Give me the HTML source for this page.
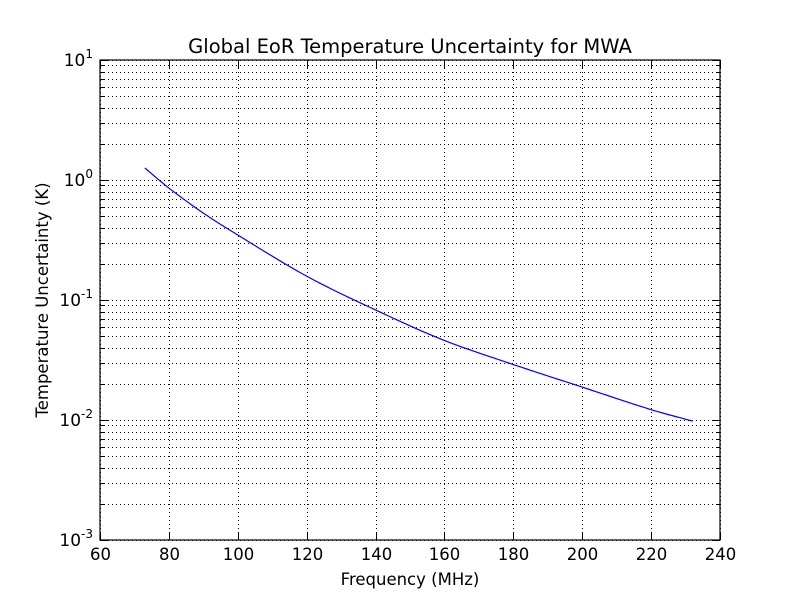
<!DOCTYPE html>
<html><head><meta charset="utf-8"><style>
body{margin:0;background:#fff}
svg text{font-family:"DejaVu Sans","Liberation Sans",sans-serif;fill:#000}
</style></head><body>
<svg id="chart" width="800" height="600" xmlns="http://www.w3.org/2000/svg">
<rect width="800" height="600" fill="#fff"/>
<g id="grid"></g>
<g id="ticks"></g>
<path id="line" fill="none" stroke="#0000ff" stroke-width="1.2"/>
<rect x="100" y="60" width="620" height="480" fill="none" stroke="#000" stroke-width="1.2"/>
<text x="410" y="53" font-size="19.5" text-anchor="middle">Global EoR Temperature Uncertainty for MWA</text>
<text x="410" y="585" font-size="16.5" text-anchor="middle">Frequency (MHz)</text>
<text transform="translate(48,300) rotate(-90)" font-size="16.5" text-anchor="middle">Temperature Uncertainty (K)</text>
</svg>
<script>
const xTicks=[60,80,100,120,140,160,180,200,220,240];
const yExps=[-3,-2,-1,0,1];
const freqs=[73,80,90,100,120,140,160,180,200,220,232];
const temps=[1.26,0.857,0.53,0.348,0.158,0.0826,0.046,0.029,0.0188,0.0122,0.0098];
const L=100,R=720,T=60,B=540;
const xs=v=>L+(v-60)/(240-60)*(R-L);
const ys=v=>B-(Math.log10(v)+3)/4*(B-T);
const NS='http://www.w3.org/2000/svg';
const grid=document.getElementById('grid'),ticks=document.getElementById('ticks'),svg=document.getElementById('chart');
function ln(p,x1,y1,x2,y2,dash){const l=document.createElementNS(NS,'line');l.setAttribute('x1',x1);l.setAttribute('y1',y1);l.setAttribute('x2',x2);l.setAttribute('y2',y2);l.setAttribute('stroke','#000');l.setAttribute('stroke-width','1');if(dash)l.setAttribute('stroke-dasharray','1,3');p.appendChild(l);return l;}
xTicks.forEach(v=>{const x=Math.round(xs(v))+0.5;
 const g=ln(grid,x,T,x,B,true);
 
 
 ln(ticks,x,B,x,B-8);ln(ticks,x,T,x,T+8);
 const t=document.createElementNS(NS,'text');t.setAttribute('x',x);t.setAttribute('y',B+20);t.setAttribute('font-size','16.5');t.setAttribute('text-anchor','middle');t.textContent=v;
 
 
 svg.appendChild(t);});
yExps.forEach(e=>{
 for(let m=1;m<=9;m++){if(e===1&&m>1)break;const v=m*Math.pow(10,e);const y=Math.round(ys(v))+0.5;
  const g=ln(grid,L,y,R,y,true);
  
  
  const len=m===1?8:4;ln(ticks,L,y,L+len,y);ln(ticks,R,y,R-len,y);}
 const y=ys(Math.pow(10,e));
 const t=document.createElementNS(NS,'text');t.setAttribute('x',93);t.setAttribute('y',y+6);t.setAttribute('font-size','17');t.setAttribute('text-anchor','end');
 t.innerHTML='10<tspan dy="-8" font-size="12">'+e+'</tspan>';
 
 
 svg.appendChild(t);});
const lx=freqs,ly=temps.map(v=>Math.log10(v));
let d='';const n=lx.length;
for(let i=0;i<n-1;i++){
 const m0=i>0?(ly[i+1]-ly[i-1])/(lx[i+1]-lx[i-1]):(ly[1]-ly[0])/(lx[1]-lx[0]);
 const m1=i<n-2?(ly[i+2]-ly[i])/(lx[i+2]-lx[i]):(ly[n-1]-ly[n-2])/(lx[n-1]-lx[n-2]);
 const h=lx[i+1]-lx[i];
 for(let k=0;k<=10;k++){const t=k/10;const t2=t*t,t3=t2*t;
  const yv=(2*t3-3*t2+1)*ly[i]+(t3-2*t2+t)*h*m0+(-2*t3+3*t2)*ly[i+1]+(t3-t2)*h*m1;
  const xv=lx[i]+t*h;
  if(i>0&&k===0)continue;
  d+=(d?'L':'M')+xs(xv).toFixed(2)+','+ys(Math.pow(10,yv)).toFixed(2);}
}
document.getElementById('line').setAttribute('d',d);
</script>
</body></html>
